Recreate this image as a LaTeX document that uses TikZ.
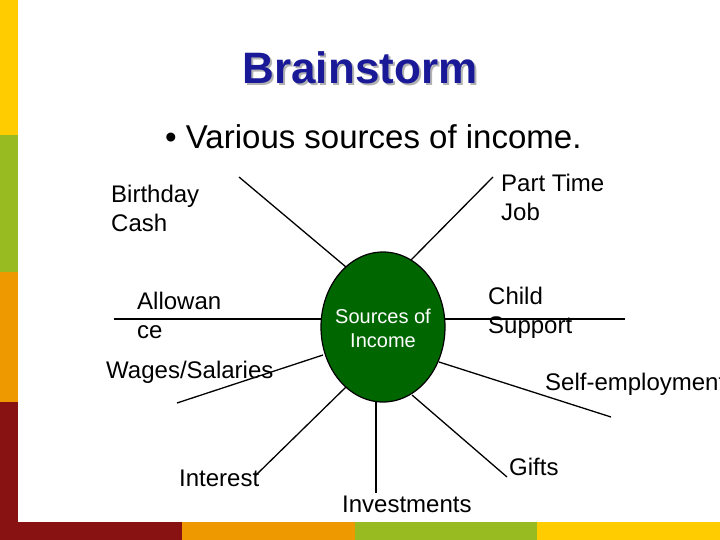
\documentclass[tikz,border=0pt]{standalone}
\usepackage{fontspec}
\setmainfont{Liberation Sans}
\usetikzlibrary{shapes.geometric}
\definecolor{cyel}{HTML}{FFCC00}
\definecolor{cgrn}{HTML}{99BB22}
\definecolor{cora}{HTML}{EE9900}
\definecolor{cred}{HTML}{881111}
\definecolor{ttl}{HTML}{1A1A99}
\definecolor{ell}{HTML}{006600}
\begin{document}
\begin{tikzpicture}[x=1pt,y=-1pt,
  lbl/.style={anchor=west,align=left,inner sep=0pt,font=\fontsize{24}{29}\selectfont},
  spoke/.style={line width=1.3pt,black}]
\useasboundingbox (0,0) rectangle (720,540);
\fill[white] (0,0) rectangle (720,540);
\fill[cyel] (0,0) rectangle (18,135);
\fill[cgrn] (0,135) rectangle (18,272);
\fill[cora] (0,272) rectangle (18,402);
\fill[cred] (0,402) rectangle (18,540);
\fill[cred] (0,522) rectangle (182,540);
\fill[cora] (182,522) rectangle (355,540);
\fill[cgrn] (355,522) rectangle (537,540);
\fill[cyel] (537,522) rectangle (720,540);
\node[text=gray!60,font=\fontsize{44}{48}\selectfont\bfseries] at (362,70) {Brainstorm};
\node (title) [text=ttl,font=\fontsize{44}{48}\selectfont\bfseries] at (360,68) {Brainstorm};
\node (bullet) [anchor=west,inner sep=0pt,font=\fontsize{33}{36}\selectfont] at (165,137) {• Various sources of income.};
\node (c) [ellipse,draw,line width=1.2pt,fill=ell,minimum width=124pt,minimum height=150pt,inner sep=0pt] at (383,327) {};
\node[align=center,text=white,font=\fontsize{20}{24}\selectfont] at (383,328) {Sources of\\Income};
\coordinate (e1) at (239,177); \coordinate (s1) at (346,267);
\coordinate (e2) at (493,177); \coordinate (s2) at (411,260);
\coordinate (e3) at (114,319); \coordinate (s3) at (321,319);
\coordinate (e4) at (625,319); \coordinate (s4) at (445,319);
\coordinate (e5) at (177,403); \coordinate (s5) at (323,355);
\coordinate (e6) at (611,417); \coordinate (s6) at (439,362);
\coordinate (e7) at (255,476); \coordinate (s7) at (346,387);
\coordinate (e8) at (376,493); \coordinate (s8) at (376,402);
\coordinate (e9) at (507,477); \coordinate (s9) at (412,395);
\foreach \i in {1,...,9} {\draw[spoke] (s\i) -- (e\i);}
\node (l1) [lbl] at (111,208) {Birthday\\Cash};
\node (l2) [lbl] at (501,197) {Part Time\\Job};
\node (l3) [lbl] at (137,315) {Allowan\\ce};
\node (l4) [lbl] at (488,313) {Child\\Support};
\node (l5) [lbl] at (106,372) {Wages/Salaries};
\node (l6) [lbl] at (545,384) {Self-employment};
\node (l7) [lbl] at (179,478) {Interest};
\node (l8) [lbl] at (342,504) {Investments};
\node (l9) [lbl] at (509,467) {Gifts};
\end{tikzpicture}
\end{document}
